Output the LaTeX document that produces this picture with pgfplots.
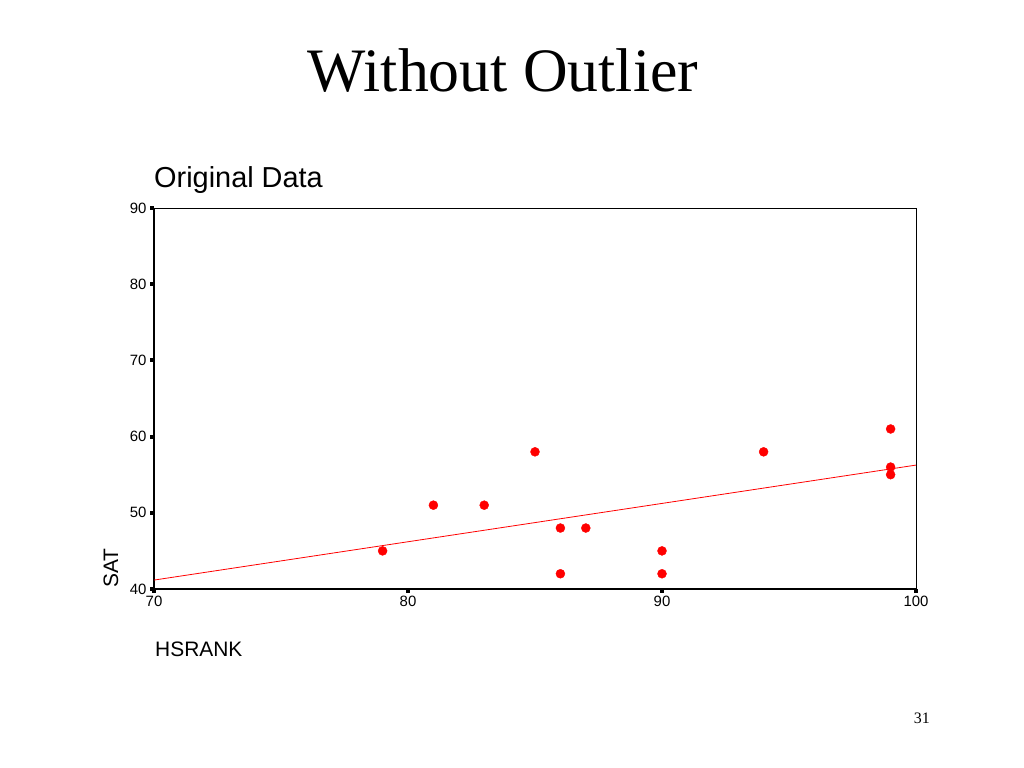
\documentclass[border=0pt]{standalone}
\usepackage{fontspec}
\setmainfont{Liberation Serif}
\setsansfont{Liberation Sans}
\usepackage{pgfplots}
\pgfplotsset{compat=1.18}

\begin{document}
\begin{tikzpicture}[x=1bp,y=1bp]
\useasboundingbox (0,0) rectangle (1024,768);

\node[anchor=base, font=\fontsize{62}{68}\selectfont] at (503,676) {Without Outlier};
\node[anchor=base west, inner sep=0, font=\fontsize{29}{33}\sffamily] at (154,580) {Original Data};
\node[anchor=base east, inner sep=0, font=\fontsize{16}{18}\selectfont] at (930,44) {31};

\begin{axis}[
    at={(154bp,179bp)}, anchor=south west,
    scale only axis, width=762bp, height=381bp,
    xmin=70, xmax=100, ymin=40, ymax=90,
    xtick={70,80,90,100}, ytick={40,50,60,70,80,90},
    xtick pos=bottom, ytick pos=left,
    tick align=outside, major tick length=4bp,
    every tick/.style={line width=4bp, black},
    axis line style={line width=0.8bp},
    ticklabel style={font=\fontsize{15}{17}\sffamily},
    /pgf/number format/assume math mode=true,
    clip=false,
]
\draw[line width=1.6bp] (rel axis cs:0,1) -- (rel axis cs:0,0) -- (rel axis cs:1,0);
\addplot[red, line width=0.8bp] coordinates {(70,41.17) (100,56.26)};
\addplot[only marks, mark=*, mark size=4.5bp, red, mark options={fill=red, draw=red}] table {
x y
79 45
81 51
83 51
85 58
86 48
87 48
86 42
90 45
90 42
94 58
99 61
99 56
99 55
};
\end{axis}

\node[anchor=base west, inner sep=0, rotate=90, font=\fontsize{21}{24}\sffamily] at (118,180) {SAT};
\node[anchor=base west, inner sep=0, font=\fontsize{21}{24}\sffamily] at (155,111) {HSRANK};
\end{tikzpicture}
\end{document}
